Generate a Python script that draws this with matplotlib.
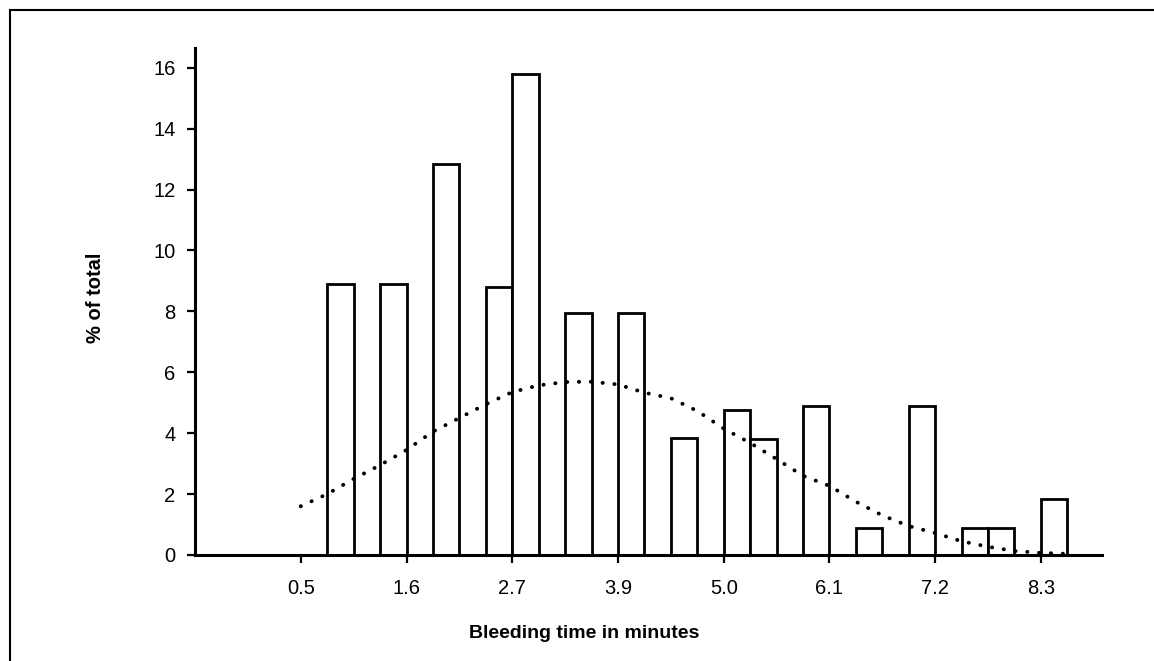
"""
Bleeding time histogram with fitted distribution curve
"""

import matplotlib.pyplot as plt
from matplotlib.lines import Line2D

plt.rcParams["font.family"] = ["Liberation Sans", "DejaVu Sans"]

# class index of each bar (bins are a quarter of a tick interval wide)
bar_class = [1, 3, 5, 7, 8, 10, 12, 14, 16, 17, 19, 21, 23, 25, 26, 28]
bar_pct = [8.9, 8.9, 12.85, 8.8, 15.8, 7.95, 7.95, 3.85, 4.75, 3.8,
           4.9, 0.9, 4.9, 0.9, 0.9, 1.85]

# dotted fitted curve
curve_class = [0, 1, 2, 3, 4, 5, 6, 7, 8, 9, 10, 11, 12, 13, 14, 15, 16,
               17, 18, 19, 20, 21, 22, 23, 24, 25, 26, 27, 28, 28.9]
curve_pct = [1.6, 2.0, 2.5, 2.95, 3.45, 4.05, 4.5, 4.95, 5.35, 5.57, 5.68,
             5.69, 5.6, 5.33, 5.15, 4.73, 4.15, 3.68, 3.15, 2.6, 2.27, 1.75,
             1.3, 0.95, 0.72, 0.45, 0.27, 0.13, 0.07, 0.04]

tick_class = [0, 4, 8, 12, 16, 20, 24, 28]
tick_labels = ["0.5", "1.6", "2.7", "3.9", "5.0", "6.1", "7.2", "8.3"]
y_ticks = [0, 2, 4, 6, 8, 10, 12, 14, 16]

fig = plt.figure(figsize=(11.54, 6.61), dpi=100)
ax = fig.add_axes([0.169, 0.1604, 0.7857, 0.767])

ax.bar(bar_class, bar_pct, width=1.0, align="edge",
       facecolor="white", edgecolor="black", linewidth=2.0, zorder=2)
ax.plot(curve_class, curve_pct, color="black", linewidth=2.8,
        linestyle=(0, (0.05, 3.0)), dash_capstyle="round", zorder=3)

ax.set_xlim(-4.0, 30.3)
ax.set_ylim(0, 16.65)
ax.set_xticks(tick_class)
ax.set_xticklabels(tick_labels)
ax.set_yticks(y_ticks)

for side in ("top", "right"):
    ax.spines[side].set_visible(False)
for side in ("left", "bottom"):
    ax.spines[side].set_linewidth(2.2)

ax.tick_params(axis="both", direction="out", length=6, width=1.6,
               labelsize=14.5)
ax.tick_params(axis="x", pad=11)
ax.tick_params(axis="y", pad=8)

ax.set_xlabel("Bleeding time in minutes", fontsize=14, fontweight="bold",
              va="center")
ax.xaxis.set_label_coords(0.429, -0.154)
ax.set_ylabel("% of total", fontsize=14.5, fontweight="bold", va="center")
ax.yaxis.set_label_coords(-0.110, 0.507)

# frame lines of the scanned page (top and left only)
fig.add_artist(Line2D([0.0087, 1.0], [0.985, 0.985], color="black",
                      linewidth=1.5, transform=fig.transFigure))
fig.add_artist(Line2D([0.0087, 0.0087], [0.0, 0.985], color="black",
                      linewidth=1.5, transform=fig.transFigure))

fig.savefig("out.png", dpi=100)
